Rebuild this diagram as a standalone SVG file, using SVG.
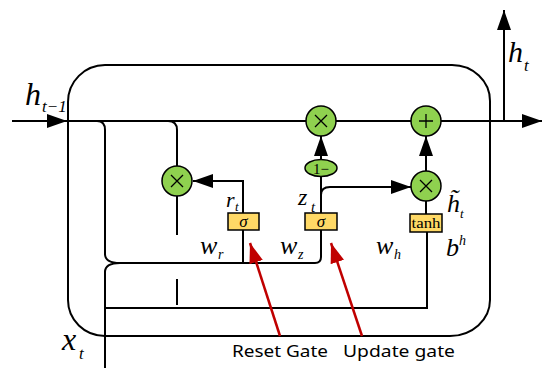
<svg xmlns="http://www.w3.org/2000/svg" width="550" height="380" viewBox="0 0 550 380">
<style>
.ln{fill:none;stroke:#000;stroke-width:2}
.op{fill:#8fd14f;stroke:#000;stroke-width:1.5}
.gate{fill:#ffd966;stroke:#000;stroke-width:1.5}
.sym{fill:none;stroke:#000;stroke-width:1.3}
.math{font-family:"Liberation Serif",serif;font-style:italic;fill:#000}
.lbl{font-family:"Noto Sans","DejaVu Sans",sans-serif;font-size:17px;fill:#000}
.red{fill:none;stroke:#c00000;stroke-width:2.5}
</style>
<defs>
<marker id="ah" viewBox="0 0 20 14" refX="20" refY="7" markerWidth="20" markerHeight="14" markerUnits="userSpaceOnUse" orient="auto">
<path d="M0,0 L20,7 L0,14 Z" fill="#000"/>
</marker>
<marker id="rh" viewBox="0 0 20 14" refX="20" refY="7" markerWidth="20" markerHeight="14" markerUnits="userSpaceOnUse" orient="auto">
<path d="M0,0 L20,7 L0,14 Z" fill="#c00000"/>
</marker>
</defs>
<g id="cell">
<path class="ln" d="M105,336 A37,36 0 0 1 68,300 L68,102 A37,37 0 0 1 105,65 L452,65 A38,36 0 0 1 490,101 L490,300 A40,36 0 0 1 450,336 Z"/>
</g>
<g id="connectors">
<line class="ln" x1="12" y1="121" x2="67" y2="121" marker-end="url(#ah)"/>
<line class="ln" x1="67" y1="121" x2="306" y2="121"/>
<line class="ln" x1="336" y1="121" x2="411" y2="121"/>
<line class="ln" x1="441" y1="121" x2="542" y2="121" marker-end="url(#ah)"/>
<line class="ln" x1="504" y1="121" x2="504" y2="10" marker-end="url(#ah)"/>
<path class="ln" d="M97,121 Q105,121 105,130 L105,254 Q105,263 120,263 Q105,263 105,272 L105,368"/>
<path class="ln" d="M168,121 Q177,121 177,130 L177,166"/>
<line class="ln" x1="177" y1="196" x2="177" y2="235"/>
<line class="ln" x1="177" y1="279" x2="177" y2="305"/>
<path class="ln" d="M120,263 L315,263 Q321,263 321,257 L321,230"/>
<line class="ln" x1="243" y1="263" x2="243" y2="230"/>
<path class="ln" d="M243,213 L243,181 L193,181" marker-end="url(#ah)"/>
<path class="ln" d="M321,213 L321,195 Q321,187 330,187 L411,187" marker-end="url(#ah)"/>
<line class="ln" x1="321" y1="195" x2="321" y2="176"/>
<line class="ln" x1="321" y1="160" x2="321" y2="136" marker-end="url(#ah)"/>
<line class="ln" x1="426" y1="171" x2="426" y2="136" marker-end="url(#ah)"/>
<line class="ln" x1="426" y1="214" x2="426" y2="201"/>
<path class="ln" d="M105,308 L427,308 L427,232"/>
<line class="red" x1="280" y1="336" x2="250" y2="243" marker-end="url(#rh)"/>
<line class="red" x1="362" y1="336" x2="331" y2="243" marker-end="url(#rh)"/>
</g>
<g id="mul_r">
<circle class="op" cx="177" cy="181" r="15"/>
<path class="sym" d="M171,175 L183,187 M183,175 L171,187"/>
</g>
<g id="mul_z">
<circle class="op" cx="321" cy="121" r="15"/>
<path class="sym" d="M315,115 L327,127 M327,115 L315,127"/>
</g>
<g id="one_minus">
<ellipse class="op" cx="321" cy="168" rx="16" ry="8.5"/>
<text x="321" y="173.5" text-anchor="middle" font-family="Liberation Serif,serif" font-size="15">1−</text>
</g>
<g id="plus">
<circle class="op" cx="426" cy="121" r="15"/>
<path class="sym" d="M419,121 L433,121 M426,114 L426,128"/>
</g>
<g id="mul_h">
<circle class="op" cx="426" cy="186" r="15"/>
<path class="sym" d="M420,180 L432,192 M432,180 L420,192"/>
</g>
<g id="sigma_r">
<rect class="gate" x="228" y="213" width="31" height="17"/>
<text x="243.5" y="226.5" text-anchor="middle" class="math" font-size="17">σ</text>
</g>
<g id="sigma_z">
<rect class="gate" x="305" y="213" width="32" height="17"/>
<text x="321" y="226.5" text-anchor="middle" class="math" font-size="17">σ</text>
</g>
<g id="tanh">
<rect class="gate" x="410" y="214" width="32" height="18"/>
<text x="426" y="228" text-anchor="middle" font-family="Liberation Serif,serif" font-size="15" textLength="29" lengthAdjust="spacingAndGlyphs">tanh</text>
</g>
<g id="labels">
<text x="25" y="105" class="math" font-size="32">h</text>
<text x="42" y="112" class="math" font-size="17">t−1</text>
<text x="508" y="62" class="math" font-size="30">h</text>
<text x="524" y="71" class="math" font-size="17">t</text>
<text x="62" y="350" class="math" font-size="32">x</text>
<text x="79" y="359" class="math" font-size="17">t</text>
<text x="226" y="207" class="math" font-size="22">r</text>
<text x="235" y="211" class="math" font-size="13">t</text>
<text x="298" y="205" class="math" font-size="24">z</text>
<text x="311" y="212" class="math" font-size="15">t</text>
<text x="447" y="212" class="math" font-size="26">h&#x303;</text>
<text x="460" y="218" class="math" font-size="13">t</text>
<text x="200" y="254" class="math" font-size="26">w</text>
<text x="218" y="259" class="math" font-size="14">r</text>
<text x="280" y="254" class="math" font-size="26">w</text>
<text x="298" y="259" class="math" font-size="14">z</text>
<text x="376" y="254" class="math" font-size="26">w</text>
<text x="394" y="259" class="math" font-size="14">h</text>
<text x="446" y="256" class="math" font-size="26">b</text>
<text x="459" y="245" class="math" font-size="14">h</text>
<text x="232" y="357" class="lbl" textLength="96" lengthAdjust="spacingAndGlyphs">Reset Gate</text>
<text x="343" y="357" class="lbl" textLength="112" lengthAdjust="spacingAndGlyphs">Update gate</text>
</g>
</svg>
